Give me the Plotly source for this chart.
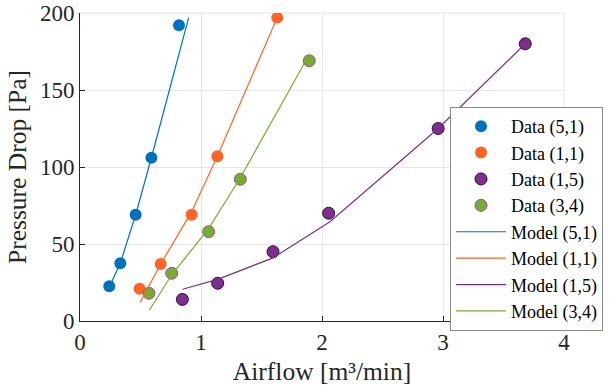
import plotly.graph_objects as go

# Measured data
data_51_x = [0.242, 0.333, 0.46, 0.59, 0.818]
data_51_y = [22.5, 37.5, 69, 106, 192]
data_11_x = [0.493, 0.667, 0.923, 1.135, 1.63]
data_11_y = [21, 37, 69, 107, 197]
data_15_x = [0.846, 1.138, 1.595, 2.055, 2.96, 3.68]
data_15_y = [14, 24.5, 45, 70, 125, 180]
data_34_x = [0.57, 0.758, 1.063, 1.325, 1.895]
data_34_y = [18, 31, 58, 92, 169]

# Model curves
model_51_x = [0.242, 0.333, 0.46, 0.59, 0.898]
model_51_y = [22, 37.5, 69, 106, 197]
model_11_x = [0.496, 0.667, 0.923, 1.135, 1.63]
model_11_y = [12, 37, 71, 107, 197]
model_15_x = [0.848, 1.138, 1.595, 2.066, 2.96, 3.68]
model_15_y = [20.6, 27, 41, 64.4, 125, 180]
model_34_x = [0.573, 0.758, 1.063, 1.325, 1.895]
model_34_y = [7, 30, 60, 93, 173]

BLUE = "#0072BD"
ORANGE = "#FF6326"
PURPLE = "#7E2F8E"
GREEN = "#77AC30"

fig = go.Figure()
font_family = "Liberation Serif"

def add_data(x, y, name, color, edge):
    fig.add_trace(go.Scatter(
        x=x, y=y, mode="markers", name=name,
        marker=dict(size=12, color=color,
                    line=dict(color=edge, width=1 if edge else 0)),
    ))

add_data(data_51_x, data_51_y, "Data (5,1)", BLUE, None)
add_data(data_11_x, data_11_y, "Data (1,1)", ORANGE, None)
add_data(data_15_x, data_15_y, "Data (1,5)", PURPLE, "#2a0f30")
add_data(data_34_x, data_34_y, "Data (3,4)", GREEN, "#9b4fb0")

def add_model(x, y, name, color):
    fig.add_trace(go.Scatter(
        x=x, y=y, mode="lines", name=name,
        line=dict(color=color, width=1.2),
    ))

add_model(model_51_x, model_51_y, "Model (5,1)", BLUE)
add_model(model_11_x, model_11_y, "Model (1,1)", ORANGE)
add_model(model_15_x, model_15_y, "Model (1,5)", PURPLE)
add_model(model_34_x, model_34_y, "Model (3,4)", GREEN)

# light grey frame on top/right of the axes box
fig.add_shape(type="line", xref="paper", yref="paper", x0=0, x1=1, y0=1, y1=1,
              line=dict(color="#e6e6e6", width=1), layer="below")
fig.add_shape(type="line", xref="paper", yref="paper", x0=1, x1=1, y0=0, y1=1,
              line=dict(color="#e6e6e6", width=1), layer="below")

fig.update_layout(
    width=614, height=392,
    margin=dict(l=80, r=50, t=13, b=71, autoexpand=False),
    paper_bgcolor="white", plot_bgcolor="white",
    font=dict(family=font_family, size=23, color="#262626"),
    showlegend=True,
    legend=dict(
        x=0.7645, y=0.695, xanchor="left", yanchor="top",
        bgcolor="white", bordercolor="#8a8a8a", borderwidth=1,
        font=dict(family=font_family, size=18, color="#000000"),
        itemwidth=50, tracegroupgap=0,
    ),
    xaxis=dict(
        range=[0, 4], tickvals=[0, 1, 2, 3, 4],
        showgrid=True, gridcolor="#e6e6e6", gridwidth=1,
        zeroline=False, showline=True, linecolor="#262626", linewidth=1,
        ticks="inside", ticklen=5, tickcolor="#262626",
        automargin=False, ticklabeloverflow="allow",
        title=dict(text="Airflow [m³/min]", font=dict(size=25.5), standoff=8),
    ),
    yaxis=dict(
        range=[0, 200], tickvals=[0, 50, 100, 150, 200],
        showgrid=True, gridcolor="#e6e6e6", gridwidth=1,
        zeroline=False, showline=True, linecolor="#262626", linewidth=1,
        ticks="inside", ticklen=5, tickcolor="#262626",
        automargin=False, ticklabeloverflow="allow",
        title=dict(text="Pressure Drop [Pa]", font=dict(size=25.5), standoff=5),
    ),
)

fig.write_html(
    "out.html",
    config={"displayModeBar": False},
    post_script="document.body.style.margin='0';document.body.style.overflow='hidden';",
)
